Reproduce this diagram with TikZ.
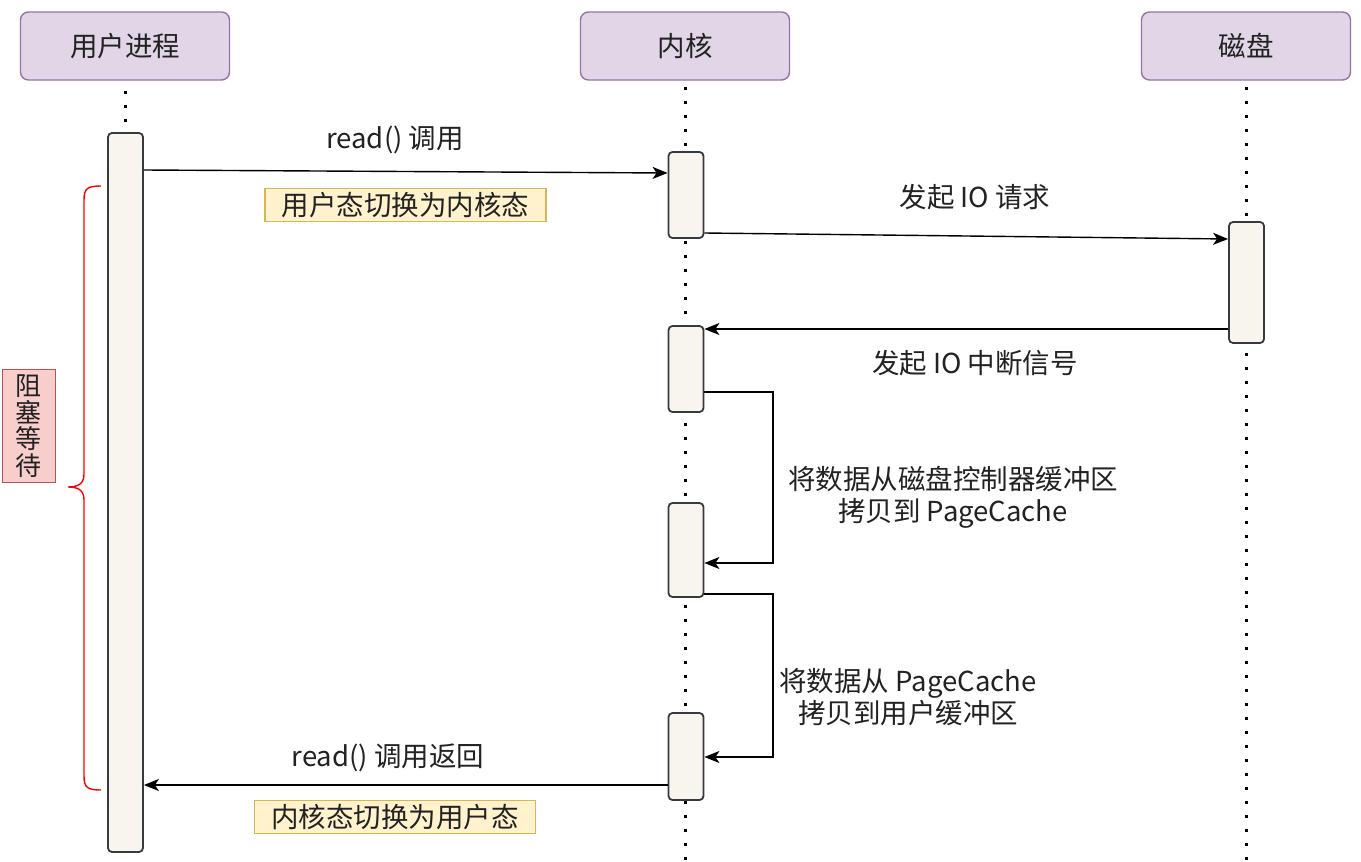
\documentclass[tikz,border=0pt]{standalone}
\usepackage{fontspec}
\setmainfont{Noto Sans CJK SC}
\usetikzlibrary{arrows.meta}
\definecolor{hdrfill}{HTML}{E1D5E7}
\definecolor{hdrdraw}{HTML}{9673A6}
\definecolor{actfill}{HTML}{F7F5EE}
\definecolor{actdraw}{HTML}{36393D}
\definecolor{notefill}{HTML}{FFF2CC}
\definecolor{notedraw}{HTML}{D6B656}
\definecolor{blockfill}{HTML}{F8CECC}
\definecolor{blockdraw}{HTML}{B85450}
\definecolor{txt}{HTML}{222222}
\begin{document}
\begin{tikzpicture}[x=1pt,y=-1pt,
  every node/.style={text=txt, font=\fontsize{27.5}{32}\selectfont},
  header/.style={draw=hdrdraw, fill=hdrfill, line width=1.4pt, rounded corners=8pt,
    minimum width=209pt, minimum height=68pt, inner sep=0pt},
  act/.style={draw=actdraw, fill=actfill, line width=1.8pt, rounded corners=4pt,
    minimum width=35pt, inner sep=0pt},
  life/.style={line width=3pt, dash pattern=on 3pt off 11pt, black},
  msg/.style={line width=1.4pt, -{Stealth[length=15pt,width=12pt,inset=4pt]}},
  note/.style={draw=notedraw, fill=notefill, line width=1.2pt, inner sep=0pt,
    minimum width=281pt, minimum height=33pt},
  lbl/.style={align=center}]
\useasboundingbox (0,0) rectangle (1361,862);
\fill[white] (0,0) rectangle (1361,862);

% headers
\node[header] (hu) at (125,46) {用户进程};
\node[header] (hk) at (685,46) {内核};
\node[header] (hd) at (1246,46) {磁盘};

% lifelines
\coordinate (kend) at (685,862);
\coordinate (dend) at (1246,862);
\draw[life] (hu.south) ++(0,10) -- (125,133);
\draw[life] (hk.south) ++(0,6) -- (kend);
\draw[life] (hd.south) ++(0,6) -- (dend);

% activations
\node[act, minimum height=719pt] (u) at (125.5,492.5) {};
\node[act, minimum height=86pt] (k1) at (686,195) {};
\node[act, minimum height=86pt] (k2) at (686,369) {};
\node[act, minimum height=94pt] (k3) at (686,550) {};
\node[act, minimum height=87pt] (k4) at (686,756.5) {};
\node[act, minimum height=121pt] (d1) at (1246.5,282.5) {};

% messages
\draw[msg] (u.east |- 0,170) -- (k1.west |- 0,173);
\node[lbl] (l1) at (395,140) {read() 调用};
\node[note] (n1) at (405.5,205) {用户态切换为内核态};

\draw[msg] (k1.east |- 0,233) -- (d1.west |- 0,239);
\node[lbl] (l2) at (975,197) {发起 IO 请求};

\draw[msg] (d1.west |- 0,329) -- (k2.east |- 0,329);
\node[lbl] (l3) at (975,363) {发起 IO 中断信号};

\coordinate (c1) at (773,392);
\coordinate (c2) at (773,563);
\draw[msg] (k2.east |- c1) -- (c1) -- (c2) -- (k3.east |- c2);
\node[lbl] (l4) at (953,497) {将数据从磁盘控制器缓冲区\\拷贝到 PageCache};

\coordinate (c3) at (773,594);
\coordinate (c4) at (773,757);
\draw[msg] (k3.east |- c3) -- (c3) -- (c4) -- (k4.east |- c4);
\node[lbl] (l5) at (908,697) {将数据从 PageCache\\拷贝到用户缓冲区};

\draw[msg] (k4.west |- 0,785) -- (u.east |- 0,785);
\node[lbl] (l6) at (388,758) {read() 调用返回};
\node[note] (n2) at (395,817) {内核态切换为用户态};

% brace
\draw[red, line width=1.4pt] (101,186) .. controls (88,186) and (84,188) .. (84,200)
  -- (84,474) .. controls (84,484) and (78,487) .. (68,487)
  .. controls (78,487) and (84,490) .. (84,500)
  -- (84,776) .. controls (84,788) and (88,790) .. (101,790);

% blocking label
\node[draw=blockdraw, fill=blockfill, line width=1.4pt, align=center,
  minimum width=53pt, minimum height=113pt, inner sep=0pt,
  font=\fontsize{26}{26.5}\selectfont] (blk) at (29,426) {阻\\塞\\等\\待};
\end{tikzpicture}
\end{document}
